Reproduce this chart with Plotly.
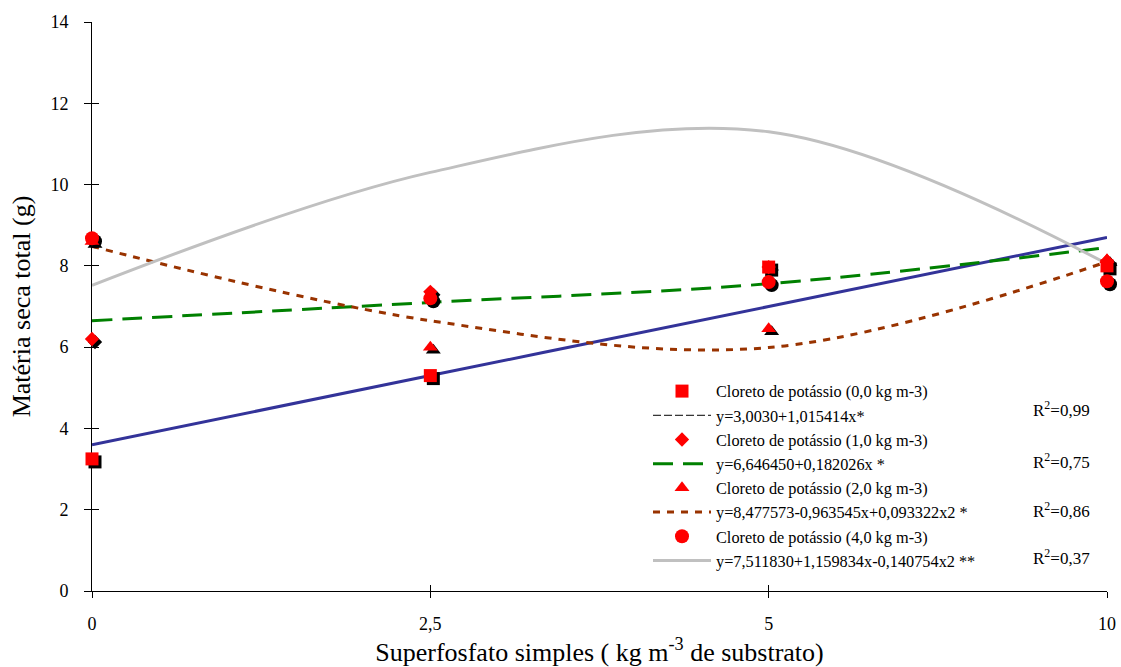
import plotly.graph_objects as go

categories = ["0", "2,5", "5", "10"]
y_ticks = [0, 2, 4, 6, 8, 10, 12, 14]

# observed means
kcl_00 = [3.25, 5.3, 7.97, 8.0]
kcl_10 = [6.2, 7.36, 7.97, 8.12]
kcl_20 = [8.6, 6.0, 6.45, 8.15]
kcl_40 = [8.68, 7.2, 7.6, 7.62]

# fitted curves (as drawn)
fit_00 = [3.6, 5.3, 7.0, 8.7]
fit_10 = [6.65, 7.1, 7.56, 8.45]
fit_20 = [8.48, 6.65, 5.99, 8.1]
fit_40 = [7.52, 10.3, 11.3, 8.05]

names_pts = ["Cloreto de potássio (0,0 kg m-3)", "Cloreto de potássio (1,0 kg m-3)",
             "Cloreto de potássio (2,0 kg m-3)", "Cloreto de potássio (4,0 kg m-3)"]
names_fit = ["y=3,0030+1,015414x*", "y=6,646450+0,182026x *",
             "y=8,477573-0,963545x+0,093322x2 *", "y=7,511830+1,159834x-0,140754x2 **"]
r2_labels = ["R<sup>2</sup>=0,99", "R<sup>2</sup>=0,75", "R<sup>2</sup>=0,86", "R<sup>2</sup>=0,37"]

SERIF = "Liberation Serif, 'Times New Roman', 'DejaVu Serif', serif"

W, H = 1121, 667
ml, mt, mb = 92, 22, 76
main_w = 1015          # plot width of the main axes in px
extra = 6              # extra room on the right for the shadow layer
mr = W - ml - main_w - extra
tot_w = main_w + extra
ph = H - mt - mb
D = main_w / tot_w
ux = 3.0 / main_w
uy = 14.0 / ph
sh = 3                 # shadow offset px

fig = go.Figure()

fits = [fit_00, fit_10, fit_20, fit_40]
fit_styles = [dict(color="#333399", width=3, dash="solid"),
              dict(color="#008000", width=3, dash="20px,10px"),
              dict(color="#993300", width=3, dash="7px,7px"),
              dict(color="#C0C0C0", width=3, dash="solid")]
pts = [kcl_00, kcl_10, kcl_20, kcl_40]
symbols = ["square", "diamond", "triangle-up", "circle"]
sizes = [13, 11, 13, 14]

# fitted lines (main axes)
for i, (f, st) in enumerate(zip(fits, fit_styles)):
    fig.add_trace(go.Scatter(x=categories, y=f, mode="lines", line=dict(shape="spline", smoothing=1, **st),
                             name=names_fit[i], showlegend=(i != 0), legendrank=2 * i + 2,
                             hoverinfo="skip"))
# legend entry for the first equation (thin black dashes, as in the original key)
fig.add_trace(go.Scatter(x=[None], y=[None], mode="lines", line=dict(color="black", width=1, dash="8px,3px"),
                         name=names_fit[0], legendrank=2))

# marker shadows (shifted layer)
for i, p in enumerate(pts):
    fig.add_trace(go.Scatter(x=categories, y=p, mode="markers", xaxis="x2", yaxis="y2",
                             marker=dict(symbol=symbols[i], size=sizes[i], color="black", line=dict(width=0)),
                             showlegend=False, cliponaxis=False, hoverinfo="skip"))
# red markers (top layer, same scale as main axes)
for i, p in enumerate(pts):
    fig.add_trace(go.Scatter(x=categories, y=p, mode="markers", xaxis="x3", yaxis="y3",
                             marker=dict(symbol=symbols[i], size=sizes[i], color="#FF0000", line=dict(width=0)),
                             name=names_pts[i], legendrank=2 * i + 1, cliponaxis=False))

hidden = dict(visible=False, showgrid=False, zeroline=False, automargin=False)
fig.update_layout(
    width=W, height=H,
    margin=dict(l=ml, r=mr, t=mt, b=mb),
    plot_bgcolor="rgba(0,0,0,0)", paper_bgcolor="white",
    font=dict(family=SERIF, color="black"),
    xaxis=dict(type="category", range=[0, 3], domain=[0, D], anchor="y", showgrid=False, zeroline=False,
               showline=True, linecolor="black", linewidth=1, automargin=False,
               ticks="outside", ticklen=6, tickcolor="black",
               tickfont=dict(size=18), ticklabelstandoff=10,
               title=dict(text="Superfosfato simples ( kg m<sup>-3</sup> de substrato)",
                          font=dict(size=26), standoff=4)),
    yaxis=dict(range=[0, 14], tickvals=y_ticks, domain=[0, 1], anchor="x", showgrid=False, zeroline=False,
               showline=True, linecolor="black", linewidth=1, automargin=False,
               ticks="outside", ticklen=7, tickcolor="black",
               tickfont=dict(size=18), ticklabelstandoff=12,
               title=dict(text="Matéria seca total (g)", font=dict(size=26), standoff=12)),
    xaxis2=dict(type="category", domain=[0, 1], anchor="y2",
                range=[-sh * ux, -sh * ux + tot_w * ux], **hidden),
    yaxis2=dict(domain=[0, 1], anchor="x2", range=[sh * uy, 14 + sh * uy], **hidden),
    xaxis3=dict(type="category", domain=[0, D], anchor="y3", range=[0, 3], showgrid=False, zeroline=False,
                showline=False, ticks="inside", ticklen=6, tickcolor="black", showticklabels=False,
                automargin=False),
    yaxis3=dict(domain=[0, 1], anchor="x3", range=[0, 14], tickvals=y_ticks, showgrid=False, zeroline=False,
                showline=False, ticks="inside", ticklen=7, tickcolor="black", showticklabels=False,
                automargin=False),
    legend=dict(x=(648 - ml) / tot_w, y=(H - mb - 374) / ph, xanchor="left", yanchor="top",
                bgcolor="rgba(0,0,0,0)",
                font=dict(family=SERIF, size=16.3, color="black"), itemwidth=58,
                tracegroupgap=0, traceorder="normal"),
    showlegend=True,
)

r2_y = [409, 461, 510, 557]
for lab, yy in zip(r2_labels, r2_y):
    fig.add_annotation(text=lab, xref="paper", yref="paper", x=(1031 - ml) / tot_w, y=(H - mb - yy) / ph,
                       xanchor="left", yanchor="middle", showarrow=False, font=dict(size=17, family=SERIF))

fig.write_html("out.html", post_script="document.body.style.margin='0';",
               config={"displayModeBar": False})
